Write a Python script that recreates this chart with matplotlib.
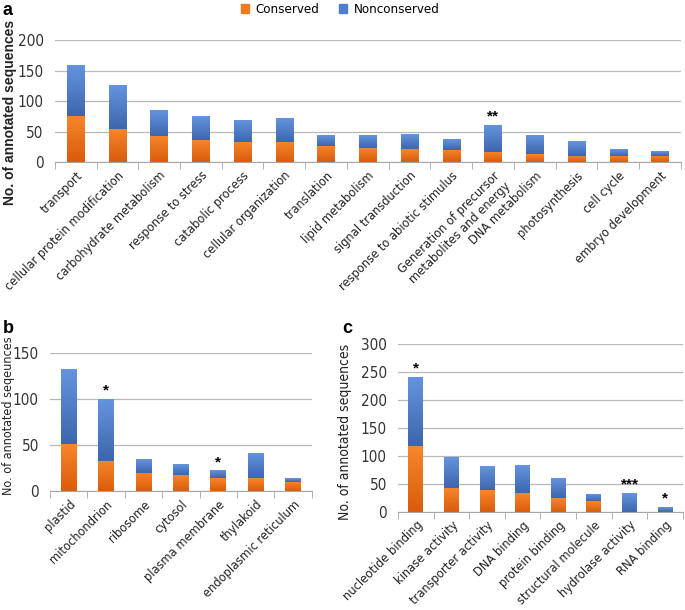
import matplotlib
matplotlib.use("Agg")
import matplotlib.pyplot as plt
import numpy as np
from matplotlib.colors import LinearSegmentedColormap
from matplotlib.patches import Patch

# Panel a - biological process
cats_a = ["transport", "cellular protein modification", "carbohydrate metabolism",
          "response to stress", "catabolic process", "cellular organization",
          "translation", "lipid metabolism", "signal transduction",
          "response to abiotic stimulus", "Generation of precursor\nmetabolites and energy",
          "DNA metabolism", "photosynthesis", "cell cycle", "embryo development"]
cons_a = [76, 55, 43, 37, 34, 34, 27, 24, 21, 20, 17, 13, 11, 10, 10]
total_a = [158, 126, 84, 75, 69, 72, 45, 45, 44, 38, 61, 43, 35, 20, 18]
stars_a = {10: "**"}

# Panel b - cellular component
cats_b = ["plastid", "mitochondrion", "ribosome", "cytosol", "plasma membrane",
          "thylakoid", "endoplasmic reticulum"]
cons_b = [51, 33, 20, 17, 14, 14, 10]
total_b = [132, 100, 35, 28, 22, 41, 14]
stars_b = {1: "*", 4: "*"}

# Panel c - molecular function
cats_c = ["nucleotide binding", "kinase activity", "transporter activity", "DNA binding",
          "protein binding", "structural molecule", "hydrolase activity", "RNA binding"]
cons_c = [118, 42, 39, 33, 24, 19, 0, 0]
total_c = [240, 96, 81, 82, 58, 31, 33, 8]
stars_c = {0: "*", 6: "***", 7: "*"}

plt.rcParams['font.family'] = ['DejaVu Sans']
plt.rcParams['font.stretch'] = 'condensed'

orange_cmap = LinearSegmentedColormap.from_list("or", ["#D95C0C", "#F7862A"])
blue_cmap = LinearSegmentedColormap.from_list("bl", ["#3D66AD", "#6494DE"])
grad = np.linspace(0, 1, 64).reshape(-1, 1)


def grad_bar(ax, x, bottom, height, width, cmap):
    if height <= 0:
        return
    ax.imshow(grad, cmap=cmap, origin="lower", aspect="auto", interpolation="bilinear",
              extent=(x - width / 2, x + width / 2, bottom, bottom + height), zorder=2)


def draw_panel(ax, cats, cons, total, stars, ymax):
    n = len(cats)
    x = np.arange(n)
    w = 0.42
    for i in range(n):
        grad_bar(ax, x[i], 0, cons[i], w, orange_cmap)
        grad_bar(ax, x[i], cons[i], total[i] - cons[i], w, blue_cmap)
    for i, s in stars.items():
        ax.text(x[i], total[i] + ymax * 0.012, s, ha="center", va="bottom",
                fontsize=11, fontweight="bold", family="Liberation Sans")
    ax.set_xlim(-0.5, n - 0.5)
    ax.set_ylim(0, ymax)
    ax.set_yticks(np.arange(0, ymax + 1, 50))
    ax.yaxis.grid(True, color="#B8B8B8", linewidth=0.9)
    ax.set_axisbelow(True)
    for sp in ["top", "right", "left"]:
        ax.spines[sp].set_visible(False)
    ax.spines["bottom"].set_color("#A6A6A6")
    ax.tick_params(axis="y", length=0, labelsize=11, pad=8, colors="#333333")
    ax.set_xticks(x)
    ax.set_xticklabels(cats, rotation=45, ha="right", rotation_mode="anchor",
                       fontsize=9.2, multialignment="center", color="#222222")
    ax.tick_params(axis="x", which="major", length=0, pad=5)
    ax.set_xticks(np.arange(n + 1) - 0.5, minor=True)
    ax.tick_params(axis="x", which="minor", length=5, color="#A6A6A6")


fig = plt.figure(figsize=(6.85, 6.10), dpi=100)

ax_a = fig.add_axes([0.080, 0.734, 0.914, 0.200])
draw_panel(ax_a, cats_a, cons_a, total_a, stars_a, 200)
fig.text(0.015, 0.816, "No. of annotated sequences", rotation=90, ha="center", va="center",
         fontsize=10, fontweight="bold", family="Liberation Sans", color="#222222")

ax_b = fig.add_axes([0.073, 0.195, 0.382, 0.226])
draw_panel(ax_b, cats_b, cons_b, total_b, stars_b, 150)
fig.text(0.013, 0.318, "No. of annotated seqeunces", rotation=90, ha="center", va="center",
         fontsize=9, color="#222222")

ax_c = fig.add_axes([0.581, 0.161, 0.416, 0.275])
draw_panel(ax_c, cats_c, cons_c, total_c, stars_c, 300)
fig.text(0.504, 0.292, "No. of annotated sequences", rotation=90, ha="center", va="center",
         fontsize=10, color="#222222")

handles = [Patch(color="#F07A1E", label="Conserved"), Patch(color="#4F7FCC", label="Nonconserved")]
fig.legend(handles=handles, loc="upper center", bbox_to_anchor=(0.497, 1.014), ncol=2,
           frameon=False, fontsize=9.5, handlelength=0.6, handleheight=0.6,
           handletextpad=0.5, columnspacing=1.5)

fig.text(0.004, 0.997, "a", fontsize=13, fontweight="bold", va="top", family="Liberation Sans")
fig.text(0.004, 0.476, "b", fontsize=13, fontweight="bold", va="top", family="Liberation Sans")
fig.text(0.500, 0.476, "c", fontsize=13, fontweight="bold", va="top", family="Liberation Sans")

fig.savefig("out.png", dpi=100)
